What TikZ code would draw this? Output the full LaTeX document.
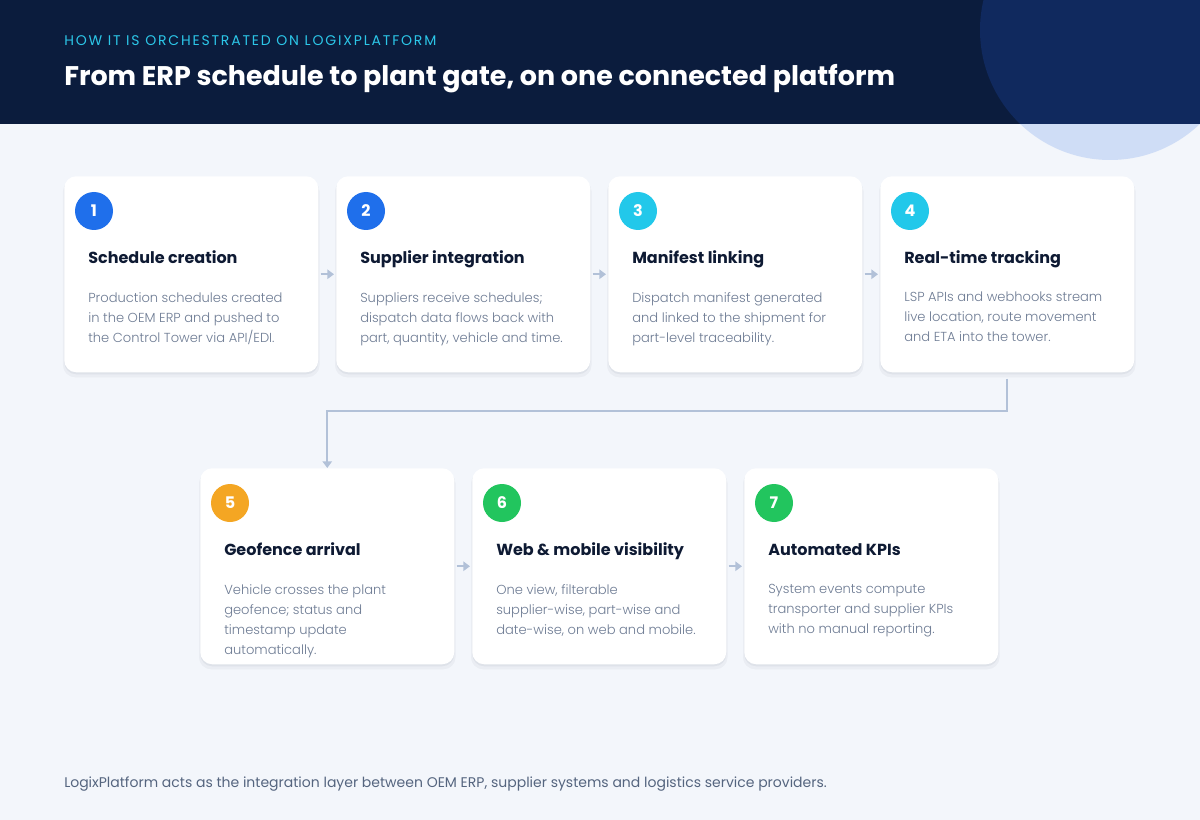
\documentclass[tikz,border=0pt]{standalone}
\usepackage{fontspec}
\setmainfont{Poppins}
\newfontfamily\lightfont{Poppins Light}
\usepackage{tikz}
\usetikzlibrary{arrows.meta,positioning,shadows}
\definecolor{pagebg}{HTML}{F3F6FB}
\definecolor{navy}{HTML}{0B1C3D}
\definecolor{navyglow}{HTML}{10295E}
\definecolor{haze}{HTML}{CFDDF6}
\definecolor{kicker}{HTML}{2CC6E8}
\definecolor{ink}{HTML}{0E1A33}
\definecolor{slate}{HTML}{6E7C94}
\definecolor{footgray}{HTML}{55657F}
\definecolor{link}{HTML}{B2C1D8}
\definecolor{dotblue}{HTML}{1F6FEB}
\definecolor{dotcyan}{HTML}{22C8EA}
\definecolor{dotorange}{HTML}{F4A623}
\definecolor{dotgreen}{HTML}{22C55E}

\begin{document}
\begin{tikzpicture}[x=0.75pt,y=-0.75pt,
    card/.style={fill=white,rounded corners=9pt,anchor=north west,inner sep=0pt,
      minimum width=190.5pt,minimum height=147pt,
      drop shadow={shadow xshift=0pt,shadow yshift=-3pt,shadow scale=1.01,opacity=0.04,fill=ink},
      drop shadow={shadow xshift=0pt,shadow yshift=-1.5pt,opacity=0.05,fill=ink}},
    numdot/.style={circle,fill=#1,minimum size=28.5pt,inner sep=0pt,text=white,
      font=\bfseries\fontsize{12}{12}\selectfont},
    cardhead/.style={anchor=base west,inner sep=0pt,text=ink,font=\bfseries\fontsize{12}{14}\selectfont},
    cardtext/.style={anchor=north west,inner sep=0pt,align=left,text=slate,
      font=\lightfont\fontsize{9.8}{15}\selectfont,execute at begin node={\vphantom{Ad}}},
    flow/.style={draw=link,line width=1.5pt,-{Triangle[length=5pt,width=7pt]}}]
  \useasboundingbox (0,0) rectangle (1200,820);
  % page and header band
  \fill[pagebg] (0,0) rectangle (1200,820);
  \fill[haze] (1110,30) circle (130);
  \fill[navy] (0,0) rectangle (1200,124);
  \begin{scope}
    \clip (0,0) rectangle (1200,124);
    \fill[navyglow] (1110,30) circle (130);
  \end{scope}
  \node[anchor=base west,inner sep=0pt,text=kicker,
    font=\addfontfeatures{LetterSpace=13}\fontsize{10.5}{10.5}\selectfont] (kick) at (64,46)
    {HOW IT IS ORCHESTRATED ON LOGIXPLATFORM};
  \node[anchor=base west,inner sep=0pt,text=white,font=\bfseries\fontsize{20.2}{24}\selectfont] (title) at (64,86)
    {From ERP schedule to plant gate, on one connected platform};

  % the seven steps
  \foreach \n/\x/\y/\col/\head/\body in {
      1/64/176/dotblue/{Schedule creation}/{Production schedules created\\in the OEM ERP and pushed to\\the Control Tower via API/EDI.},
      2/336/176/dotblue/{Supplier integration}/{Suppliers receive schedules;\\dispatch data flows back with\\part, quantity, vehicle and time.},
      3/608/176/dotcyan/{Manifest linking}/{Dispatch manifest generated\\and linked to the shipment for\\part-level traceability.},
      4/880/176/dotcyan/{Real-time tracking}/{LSP APIs and webhooks stream\\live location, route movement\\and ETA into the tower.},
      5/200/468/dotorange/{Geofence arrival}/{Vehicle crosses the plant\\geofence; status and\\timestamp update\\automatically.},
      6/472/468/dotgreen/{Web \& mobile visibility}/{One view, filterable\\supplier-wise, part-wise and\\date-wise, on web and mobile.},
      7/744/468/dotgreen/{Automated KPIs}/{System events compute\\transporter and supplier KPIs\\with no manual reporting.}}{
    \node[card] (c\n) at (\x,\y) {};
    \node[numdot=\col] (n\n) at (\x+30,\y+35) {\n};
    \node[cardhead] (h\n) at (\x+24,\y+87) {\head};
    \node[cardtext] (t\n) at (\x+24,\y+116) {\body};
  }

  % connectors
  \foreach \a/\b in {1/2,2/3,3/4,5/6,6/7}
    \draw[flow,shorten <=1.5pt,shorten >=1.5pt] (c\a.east) -- (c\b.west);
  \draw[flow,shorten <=4.5pt] (c4.south) -- ++(0,38) -| (c5.north);

  \node[anchor=base west,inner sep=0pt,text=footgray,font=\fontsize{10.5}{12}\selectfont] (note) at (64,787)
    {LogixPlatform acts as the integration layer between OEM ERP, supplier systems and logistics service providers.};
\end{tikzpicture}
\end{document}
